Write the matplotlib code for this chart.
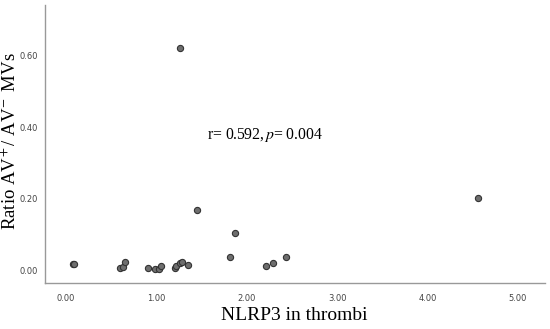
from matplotlib import pyplot as plt
import numpy as np

# NLRP3 in thrombi vs ratio AV+/AV- MVs
nlrp3 = [0.08, 0.09, 0.60, 0.63, 0.65, 0.91, 0.99, 1.03, 1.05, 1.21, 1.22,
         1.26, 1.28, 1.35, 1.45, 1.265, 1.82, 1.87, 2.21, 2.29, 2.44, 4.56]
ratio = [0.018, 0.016, 0.006, 0.009, 0.022, 0.006, 0.004, 0.004, 0.011, 0.006, 0.011,
         0.020, 0.023, 0.013, 0.168, 0.622, 0.037, 0.104, 0.011, 0.020, 0.037, 0.201]
xticks = [0, 1, 2, 3, 4, 5]
yticks = [0.0, 0.2, 0.4, 0.6]

plt.rcParams['mathtext.fontset'] = 'stix'
serif = ['Liberation Serif', 'DejaVu Serif']

fig = plt.figure(figsize=(5.5, 3.29), dpi=100)
ax = fig.add_axes([0.0818, 0.14, 0.909, 0.845])

ax.scatter(nlrp3, ratio, s=20, facecolor='#6e6e6e', edgecolor='#333333',
           linewidth=0.8, zorder=3)

ax.set_xlim(-0.232, 5.30)
ax.set_ylim(-0.036, 0.743)
ax.set_xticks(xticks)
ax.set_xticklabels([f'{t:.2f}' for t in xticks])
ax.set_yticks(yticks)
ax.set_yticklabels([f'{t:.2f}' for t in yticks])
ax.tick_params(length=0, labelsize=6, labelcolor='#444444')
ax.tick_params(axis='x', pad=8)
ax.tick_params(axis='y', pad=5)

for s in ['top', 'right']:
    ax.spines[s].set_visible(False)
for s in ['left', 'bottom']:
    ax.spines[s].set_color('#999999')
    ax.spines[s].set_linewidth(1.0)

ax.set_xlabel('NLRP3 in thrombi', family=serif, fontsize=14)
ax.set_ylabel(r'Ratio AV$^{\!+}$/ AV$^{\!-}$ MVs', family=serif, fontsize=13.5)
ax.xaxis.set_label_coords(0.499, -0.085)
ax.yaxis.set_label_coords(-0.05, 0.51)

ax.text(2.207, 0.379, r'r= 0.592,$\,\it{p}$= 0.004', family=serif, fontsize=11.3,
        ha='center', va='center')

fig.savefig('out.png')
